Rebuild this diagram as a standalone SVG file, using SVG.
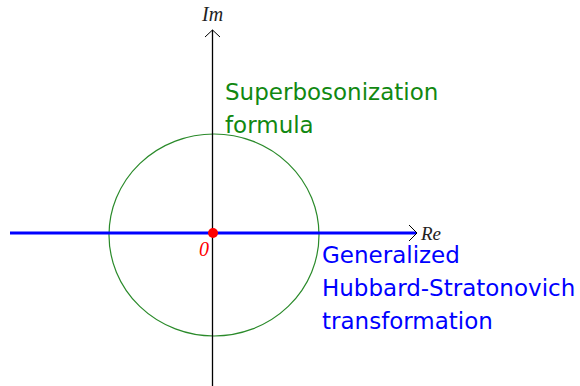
<svg xmlns="http://www.w3.org/2000/svg" width="580" height="386" viewBox="0 0 580 386">
<style>
.lbl{font-family:"DejaVu Sans",Verdana,sans-serif;font-size:23px}
.g{fill:#118811}
.b{fill:#0000ff}
.ax{font-family:"Liberation Serif","DejaVu Serif",serif;font-style:italic;fill:#222}
</style>
<rect width="580" height="386" fill="#ffffff"/>
<g id="circle">
<ellipse cx="214" cy="235" rx="105" ry="101" fill="none" stroke="#2a8a2a" stroke-width="1.2"/>
</g>
<g id="connectors">
<line x1="212.5" y1="386" x2="212.5" y2="30" stroke="#000" stroke-width="1.3"/>
<polyline points="205,37 212.5,30 220,37" fill="none" stroke="#000" stroke-width="1"/>
<line x1="10" y1="233" x2="416" y2="233" stroke="#0000ff" stroke-width="3"/>
<polyline points="409,225 417,233 409,241" fill="none" stroke="#000" stroke-width="1"/>
</g>
<g id="origin">
<circle cx="213" cy="233" r="5" fill="#ff0000"/>
<text x="199" y="256" font-family="Liberation Serif,serif" font-style="italic" font-size="20" fill="#ff0000">0</text>
</g>
<g id="im"><text class="ax" x="202" y="21" font-size="20">Im</text></g>
<g id="re"><text class="ax" x="421" y="240" font-size="19">Re</text></g>
<g id="superbosonization">
<text class="lbl g" x="225" y="100">Superbosonization</text>
<text class="lbl g" x="225" y="133">formula</text>
</g>
<g id="hs">
<text class="lbl b" x="322" y="263">Generalized</text>
<text class="lbl b" x="322" y="296">Hubbard-Stratonovich</text>
<text class="lbl b" x="322" y="329">transformation</text>
</g>
</svg>
